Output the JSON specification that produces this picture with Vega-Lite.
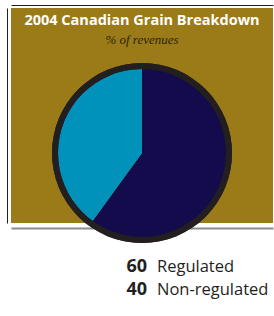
{
  "$schema": "https://vega.github.io/schema/vega-lite/v6.json",
  "width": 262,
  "height": 215,
  "autosize": {"type": "none"},
  "padding": {"left": 11, "top": 8, "right": 1, "bottom": 93},
  "background": "white",
  "config": {"view": {"fill": "#9b7b17", "stroke": null}},
  "title": {
    "text": "2004 Canadian Grain Breakdown",
    "subtitle": "               % of revenues",
    "anchor": "middle",
    "frame": "group",
    "offset": -43,
    "font": "Open Sans",
    "fontSize": 14.5,
    "fontWeight": "bold",
    "color": "white",
    "subtitleFont": "Liberation Serif",
    "subtitleFontSize": 13,
    "subtitleFontStyle": "italic",
    "subtitleColor": "#2b230c",
    "subtitlePadding": 6
  },
  "data": {"values": [
    {"category": "Regulated", "value": 60},
    {"category": "Non-regulated", "value": 40}
  ]},
  "layer": [
    {
      "mark": {"type": "arc", "outerRadius": 85},
      "encoding": {
        "theta": {"field": "value", "type": "quantitative", "stack": true},
        "order": {"field": "value", "sort": "descending"},
        "color": {"field": "category", "type": "nominal",
          "scale": {"domain": ["Regulated", "Non-regulated"], "range": ["#130b4b", "#0092ba"]},
          "legend": null},
        "y": {"datum": 0.3256, "type": "quantitative",
          "scale": {"domain": [0, 1], "nice": false, "zero": false},
          "axis": {"orient": "left", "offset": 4, "domainColor": "#231f20", "domainWidth": 1,
            "ticks": false, "labels": false, "grid": false, "title": null}}
      }
    },
    {
      "mark": {"type": "arc", "innerRadius": 84, "outerRadius": 90, "theta": 6.2832, "color": "#231f20"},
      "encoding": {
        "y": {"datum": 0.3256, "type": "quantitative",
          "scale": {"domain": [0, 1], "nice": false, "zero": false}, "axis": null}
      }
    },
    {
      "mark": {"type": "text", "align": "right", "baseline": "alphabetic", "dx": 5,
        "font": "Open Sans", "fontSize": 18, "fontWeight": "bold", "color": "#231f20"},
      "encoding": {
        "text": {"field": "value", "type": "quantitative"},
        "y": {"field": "category", "type": "nominal", "sort": ["Regulated", "Non-regulated"],
          "scale": {"type": "point", "range": [264, 287], "padding": 0}, "axis": null},
        "x": {"datum": 0, "type": "quantitative", "scale": {"domain": [-1, 1], "nice": false},
          "axis": {"orient": "bottom", "offset": 5, "domainColor": "#8c8c8c", "domainWidth": 2,
            "ticks": false, "labels": false, "grid": false, "title": null}}
      }
    },
    {
      "mark": {"type": "text", "align": "left", "baseline": "alphabetic", "dx": 15,
        "font": "Open Sans", "fontSize": 16.5, "color": "#231f20"},
      "encoding": {
        "text": {"field": "category", "type": "nominal"},
        "y": {"field": "category", "type": "nominal", "sort": ["Regulated", "Non-regulated"],
          "scale": {"type": "point", "range": [264, 287], "padding": 0}, "axis": null},
        "x": {"datum": 0, "type": "quantitative", "scale": {"domain": [-1, 1], "nice": false},
          "axis": {"orient": "top", "offset": 3, "domainColor": "#231f20", "domainWidth": 1,
            "ticks": false, "labels": false, "grid": false, "title": null}}
      }
    }
  ],
  "resolve": {
    "scale": {"x": "independent", "y": "independent"},
    "axis": {"x": "independent", "y": "independent"}
  }
}
